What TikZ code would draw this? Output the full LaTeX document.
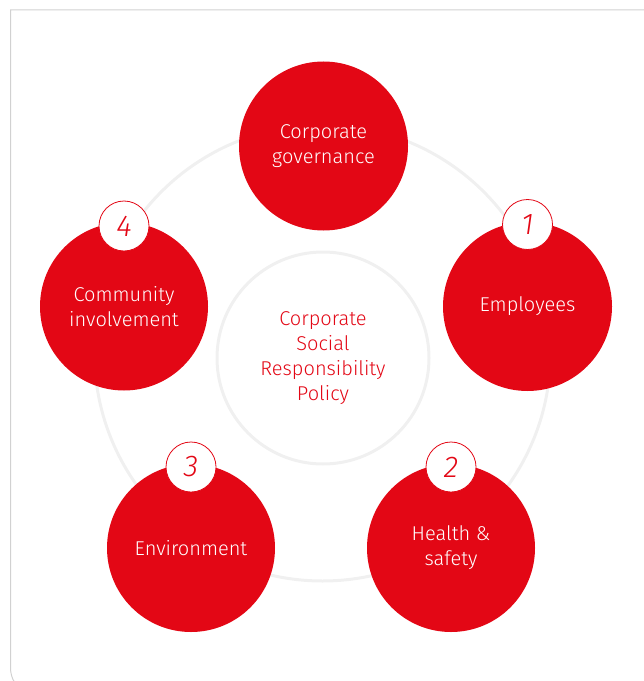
\documentclass[tikz,border=0pt]{standalone}
\usepackage{fontspec}
\setmainfont{Fira Sans Light}
\begin{document}
\begin{tikzpicture}[x=0.75pt,y=-0.75pt,
  frame/.style={draw=black!18,line width=0.75pt},
  ring/.style={draw=black!6,line width=2.25pt},
  topic/.style={circle,fill=csrred,minimum size=#1*1.5pt,inner sep=0pt,
    text=white,align=center,font=\fontsize{15}{18.8}\selectfont},
  numball/.style={circle,fill=white,draw=csrred,line width=0.6pt,minimum size=50*0.75pt,
    inner sep=0pt,text=csrred,font=\fontsize{22.5}{22.5}\selectfont\itshape},
  hub/.style={circle,draw=black!6,line width=2.25pt,minimum size=212*0.75pt,inner sep=0pt,
    text=csrred,align=center,font=\fontsize{15}{18.9}\selectfont}]
\definecolor{csrred}{RGB}{227,7,21}
\useasboundingbox (0,0) rectangle (643,681);
\draw[frame] (720,10) -- (10.5,10) [rounded corners=22pt] -- (10.5,697) -- (720,697);
\node[ring,circle,minimum size=456*0.75pt,inner sep=0pt] (ringc) at (322.5,353) {};
\node[hub] (hub) at (323,358) {Corporate\\Social\\Responsibility\\Policy};
\node[topic=84.5] (gov) at (323.5,146) {Corporate\\governance};
\node[topic=84.5] (emp) at (527.5,306.5) {Employees};
\node[topic=84] (com) at (124,306.5) {Community\\involvement};
\node[topic=84] (env) at (191,548) {Environment};
\node[topic=84] (hs) at (451,548) {Health \&\\safety};
\node[numball] (n1) at (527.5,224.5) {1};
\node[numball] (n4) at (124,226) {4};
\node[numball] (n3) at (191,467) {3};
\node[numball] (n2) at (451,467) {2};
\end{tikzpicture}
\end{document}
